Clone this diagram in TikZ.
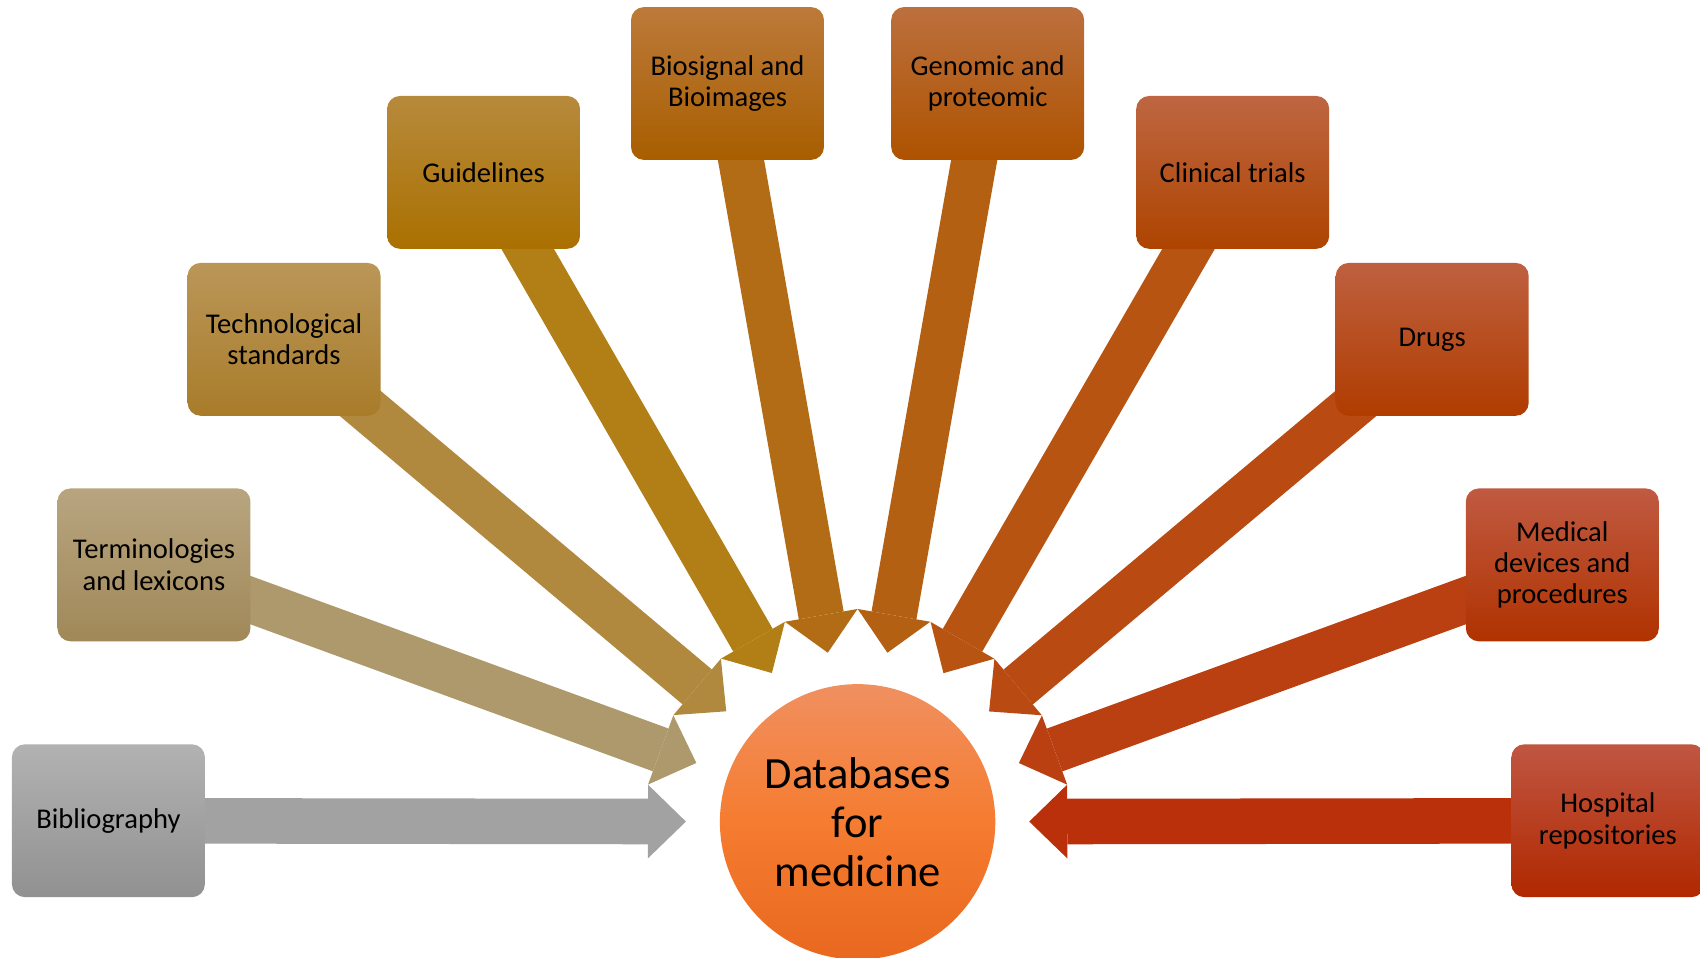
\documentclass[tikz,border=0pt]{standalone}
\usepackage{fontspec}
\setmainfont{Carlito}
\definecolor{DbTop}{RGB}{240, 144, 96}
\definecolor{DbMid}{RGB}{245, 124, 48}
\definecolor{DbBot}{RGB}{232, 104, 30}
\definecolor{BibTop}{RGB}{178, 178, 178}
\definecolor{BibBot}{RGB}{145, 145, 145}
\definecolor{BibArrow}{RGB}{162, 162, 162}
\definecolor{TermTop}{RGB}{184, 165, 128}
\definecolor{TermBot}{RGB}{160, 136, 88}
\definecolor{TermArrow}{RGB}{174, 153, 108}
\definecolor{TechTop}{RGB}{186, 150, 88}
\definecolor{TechBot}{RGB}{168, 124, 42}
\definecolor{TechArrow}{RGB}{176, 136, 62}
\definecolor{GuideTop}{RGB}{183, 138, 60}
\definecolor{GuideBot}{RGB}{170, 112, 0}
\definecolor{GuideArrow}{RGB}{178, 126, 22}
\definecolor{SignalTop}{RGB}{188, 122, 58}
\definecolor{SignalBot}{RGB}{168, 94, 0}
\definecolor{SignalArrow}{RGB}{178, 108, 22}
\definecolor{GenomTop}{RGB}{188, 112, 62}
\definecolor{GenomBot}{RGB}{174, 82, 0}
\definecolor{GenomArrow}{RGB}{180, 96, 18}
\definecolor{TrialTop}{RGB}{190, 102, 66}
\definecolor{TrialBot}{RGB}{174, 68, 0}
\definecolor{TrialArrow}{RGB}{184, 84, 18}
\definecolor{DrugTop}{RGB}{190, 96, 64}
\definecolor{DrugBot}{RGB}{176, 60, 0}
\definecolor{DrugArrow}{RGB}{184, 74, 18}
\definecolor{DeviceTop}{RGB}{192, 90, 66}
\definecolor{DeviceBot}{RGB}{176, 50, 0}
\definecolor{DeviceArrow}{RGB}{186, 64, 18}
\definecolor{HospTop}{RGB}{192, 86, 66}
\definecolor{HospBot}{RGB}{176, 40, 0}
\definecolor{HospArrow}{RGB}{186, 48, 10}
\usetikzlibrary{arrows.meta, backgrounds}

\begin{document}
\begin{tikzpicture}[x=0.2mm, y=-0.2mm,
    source/.style={rounded corners=2.4mm, minimum width=35.6mm, minimum height=28.2mm,
        inner sep=1pt, align=center, font=\fontsize{15pt}{16.5pt}\selectfont},
    feed/.style={line width=8.4mm, shorten >=6.2mm,
        -{Triangle[width=13.6mm, length=7mm, line width=0pt]}}]
    \useasboundingbox (0,0) rectangle (1568,883);

    % Central database
    \node[circle, minimum size=50.8mm, inner sep=0pt, top color=DbTop, bottom color=DbBot,
        middle color=DbMid, align=center, font=\fontsize{23.4pt}{25.7pt}\selectfont]
        (db) at (791,758) {Databases\\for\\medicine};

    % Source boxes, left to right
    \node[source, top color=BibTop, bottom color=BibBot] (bib) at (100,757) {Bibliography};
    \node[source, top color=TermTop, bottom color=TermBot] (term) at (142,521) {Terminologies\\and lexicons};
    \node[source, top color=TechTop, bottom color=TechBot] (tech) at (262,313) {Technological\\standards};
    \node[source, top color=GuideTop, bottom color=GuideBot] (guide) at (446,159) {Guidelines};
    \node[source, top color=SignalTop, bottom color=SignalBot] (signal) at (671,77) {Biosignal and\\Bioimages};
    \node[source, top color=GenomTop, bottom color=GenomBot] (genom) at (911,77) {Genomic and\\proteomic};
    \node[source, top color=TrialTop, bottom color=TrialBot] (trial) at (1137,159) {Clinical trials};
    \node[source, top color=DrugTop, bottom color=DrugBot] (drug) at (1321,313) {Drugs};
    \node[source, top color=DeviceTop, bottom color=DeviceBot] (device) at (1441,521) {Medical\\devices and\\procedures};
    \node[source, top color=HospTop, bottom color=HospBot] (hosp) at (1483,757) {Hospital\\repositories};

    % Arrows into the centre
    \begin{scope}[on background layer]
        \foreach \src/\col in {bib/BibArrow, term/TermArrow, tech/TechArrow, guide/GuideArrow,
                signal/SignalArrow, genom/GenomArrow, trial/TrialArrow, drug/DrugArrow,
                device/DeviceArrow, hosp/HospArrow}
            \draw[feed, \col] (\src.center) -- (db);
    \end{scope}
\end{tikzpicture}
\end{document}
